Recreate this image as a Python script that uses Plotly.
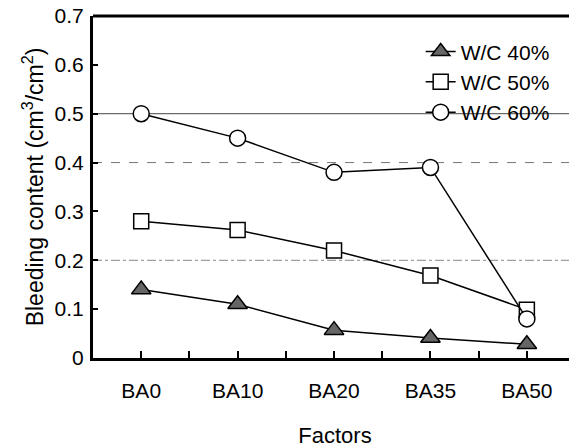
import plotly.graph_objects as go

categories = ["BA0", "BA10", "BA20", "BA35", "BA50"]
wc40 = [0.14, 0.11, 0.057, 0.041, 0.028]
wc50 = [0.28, 0.262, 0.22, 0.169, 0.099]
wc60 = [0.50, 0.45, 0.38, 0.39, 0.08]
series_names = ["W/C 40%", "W/C 50%", "W/C 60%"]
y_ticks = [0, 0.1, 0.2, 0.3, 0.4, 0.5, 0.6, 0.7]
y_tick_text = ["0", "0.1", "0.2", "0.3", "0.4", "0.5", "0.6", "0.7"]
grid_levels = [0.5, 0.4, 0.2]

FONT = "Liberation Sans"
FS = 21
xs = list(range(len(categories)))

fig = go.Figure()
styles = [
    dict(symbol="triangle-up", size=17, color="#666666", line=dict(color="black", width=1.5)),
    dict(symbol="square", size=15, color="white", line=dict(color="black", width=1.5)),
    dict(symbol="circle", size=16, color="white", line=dict(color="black", width=1.5)),
]
for i, (name, vals) in enumerate(zip(series_names, [wc40, wc50, wc60])):
    fig.add_trace(go.Scatter(
        x=xs, y=vals, name=name, mode="lines+markers",
        line=dict(color="black", width=1.5),
        marker=styles[i], legendgroup=name,
    ))

grid_styles = [dict(color="#444444", width=1, dash="solid"),
               dict(color="#777777", width=1, dash="dash"),
               dict(color="#888888", width=1, dash="dashdot")]
for lvl, st in zip(grid_levels, grid_styles):
    fig.add_shape(type="line", xref="paper", x0=0, x1=1, yref="y", y0=lvl, y1=lvl,
                  line=st, layer="below")

# x tick positions: categories plus half-way marks
tickvals = []
ticktext = []
for i, c in enumerate(categories):
    tickvals.append(i)
    ticktext.append(c)
    tickvals.append(i + 0.5)
    ticktext.append("")

# the page body has an 8px default margin, so the figure is 8px smaller
fig.update_layout(
    width=569, height=440,
    margin=dict(l=85, r=0, t=8, b=90, autoexpand=False),
    paper_bgcolor="white", plot_bgcolor="white",
    font=dict(family=FONT, size=FS, color="black"),
    showlegend=True,
    legend=dict(x=0.677, y=0.955, xanchor="left", yanchor="top",
                bgcolor="rgba(0,0,0,0)", font=dict(size=FS, family=FONT),
                tracegroupgap=0),
    xaxis=dict(range=[-0.5, 4.52], tickvals=tickvals, ticktext=ticktext,
               ticks="inside", ticklen=7, tickwidth=1.5, tickcolor="black",
               showline=True, linewidth=3, linecolor="black", mirror=False,
               showgrid=False, zeroline=False, ticklabelstandoff=12, automargin=False,
               ticklabeloverflow="allow",
               title=dict(text="Factors", standoff=33, font=dict(size=22))),
    yaxis=dict(range=[0, 0.7], tickvals=y_ticks, ticktext=y_tick_text,
               ticks="inside", ticklen=5, tickwidth=1.5, tickcolor="black",
               showline=True, linewidth=3, linecolor="black", automargin=False,
               showgrid=False, zeroline=False, ticklabelstandoff=2,
               ticklabeloverflow="allow",
               title=dict(text="Bleeding content (cm<sup>3</sup>/cm<sup>2</sup>)", standoff=5,
                          font=dict(size=23))),
)
# top border
fig.add_shape(type="line", xref="paper", x0=0, x1=1, yref="paper", y0=1, y1=1,
              line=dict(color="black", width=3))

fig.write_html("out.html")
